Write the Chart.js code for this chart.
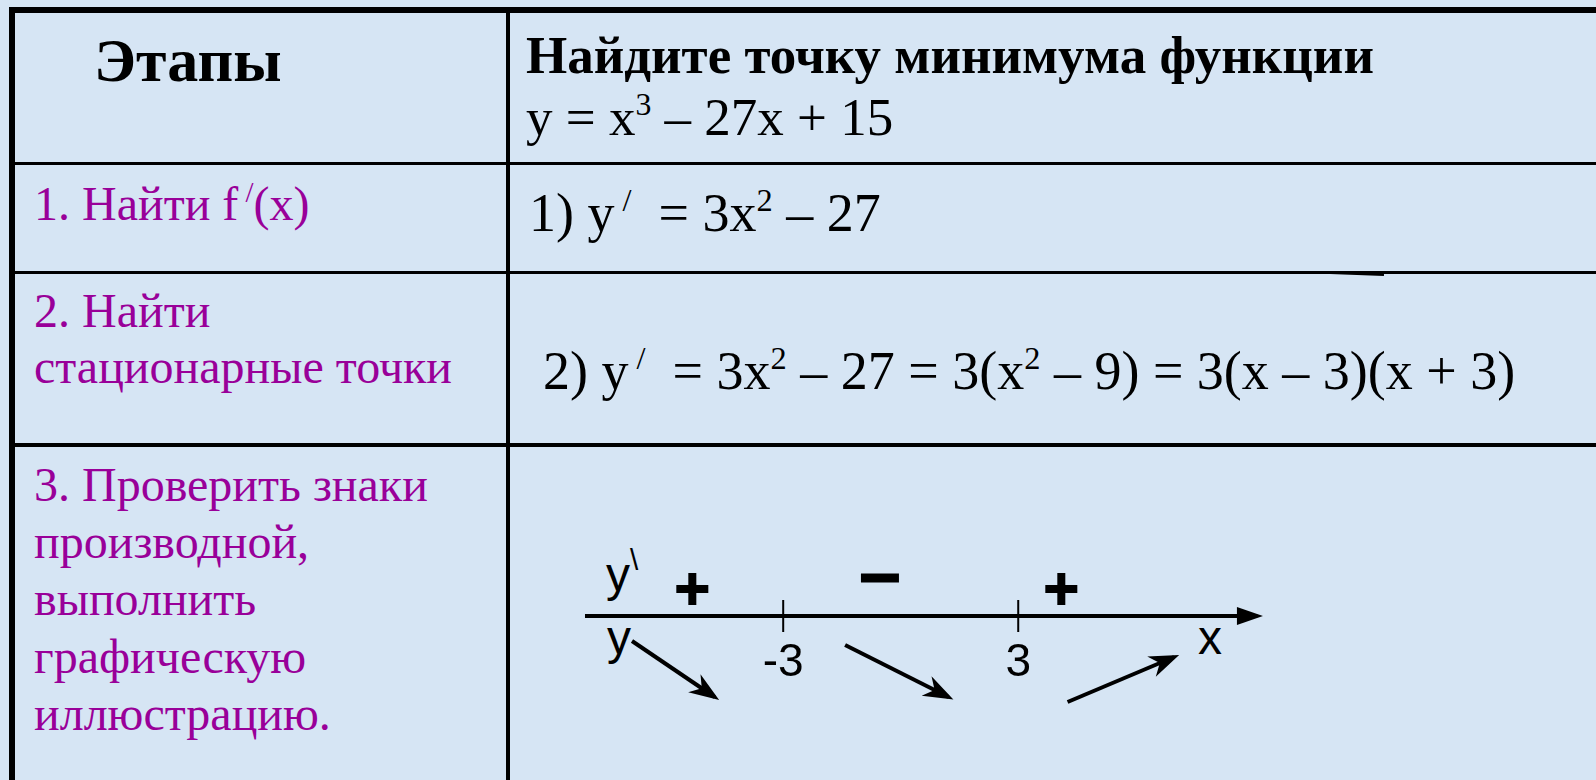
<!DOCTYPE html>
<html><head><meta charset="utf-8">
<script src="https://cdn.jsdelivr.net/npm/chart.js@4.4.1/dist/chart.umd.min.js"></script>
<style>
html,body{margin:0;padding:0;width:1596px;height:780px;overflow:hidden;background:#d6e5f4;}
.ln{position:absolute;background:#000;}
.t{position:absolute;white-space:nowrap;}
.serif{font-family:'Liberation Serif','Times New Roman',serif;}
.sans{font-family:'Liberation Sans',Arial,sans-serif;}
.b{font-weight:bold;}
.m{color:#990099;}
.sup{position:relative;font-size:0.6em;top:-0.62em;}
#c{position:absolute;left:509px;top:446px;}
</style></head><body>
<div class="ln" style="left:9px;top:7px;width:1587px;height:6px"></div>
<div class="ln" style="left:9px;top:7px;width:6px;height:773px"></div>
<div class="ln" style="left:506px;top:10px;width:4px;height:770px"></div>
<div class="ln" style="left:12px;top:162px;width:1584px;height:3px"></div>
<div class="ln" style="left:12px;top:271px;width:1584px;height:3px"></div>
<div class="ln" style="left:12px;top:443px;width:1584px;height:4px"></div>
<div class="ln" style="left:1330px;top:272px;width:54px;height:3px;transform:rotate(2deg)"></div>
<div id="texts"></div>
<canvas id="c" width="1087" height="334"></canvas>
<script>
// ---- data ----
const signTicks = [-3, 3];
const signTickLabels = ['-3', '3'];
const axisLine = [{x: -8.06, y: 0}, {x: 9.10, y: 0}];
const plusSigns = [{x: -5.32, y: 2.7}, {x: 4.1, y: 2.7}];
const minusSigns = [{x: -0.53, y: 3.8}];
const trendDown1 = [{x: -6.86, y: -2.5}, {x: -4.75, y: -8.1}];
const trendDown2 = [{x: -1.42, y: -2.9}, {x: 1.22, y: -8.1}];
const trendUp = [{x: 4.26, y: -8.6}, {x: 6.98, y: -4.1}];

// ---- text content & layout ----
const textItems = [
  {x: 94, base: 81, size: 62, cls: 'serif b', html: 'Этапы'},
  {x: 526, base: 73, size: 53, cls: 'serif b', html: 'Найдите точку минимума функции'},
  {x: 526, base: 135, size: 53, cls: 'serif', html: 'y = x<span class="sup">3</span> – 27x + 15'},
  {x: 34, base: 220, size: 48, cls: 'serif m', html: '1. Найти f<span class="sup"> /</span>(x)'},
  {x: 529, base: 231, size: 54, cls: 'serif', html: '1) y<span class="sup"> /</span>&nbsp; = 3x<span class="sup">2</span> – 27'},
  {x: 34, base: 327, size: 48, cls: 'serif m', html: '2. Найти'},
  {x: 34, base: 383, size: 48, cls: 'serif m', html: 'стационарные точки'},
  {x: 543, base: 389, size: 54, cls: 'serif', html: '2) y<span class="sup"> /</span>&nbsp; = 3x<span class="sup">2</span> – 27 = 3(x<span class="sup">2</span> – 9) = 3(x – 3)(x + 3)'},
  {x: 34, base: 501, size: 48, cls: 'serif m', html: '3. Проверить знаки'},
  {x: 34, base: 558, size: 48, cls: 'serif m', html: 'производной,'},
  {x: 34, base: 615, size: 48, cls: 'serif m', html: 'выполнить'},
  {x: 34, base: 673, size: 48, cls: 'serif m', html: 'графическую'},
  {x: 34, base: 730, size: 48, cls: 'serif m', html: 'иллюстрацию.'},
  {x: 606, base: 592, size: 48, cls: 'sans', html: 'y<span class="sup" style="font-size:0.62em;top:-0.72em;font-weight:300">\\</span>'},
  {x: 607, base: 655, size: 48, cls: 'sans', html: 'y'},
  {x: 1198, base: 655, size: 48, cls: 'sans', html: 'x'}
];
const host = document.getElementById('texts');
textItems.forEach(it => {
  const d = document.createElement('div');
  d.className = 't ' + it.cls;
  const k = it.cls.indexOf('sans') >= 0 ? 0.8465 : 0.8375;
  d.style.left = it.x + 'px';
  d.style.top = (it.base - k * it.size) + 'px';
  d.style.fontSize = it.size + 'px';
  d.style.lineHeight = it.size + 'px';
  d.innerHTML = it.html;
  host.appendChild(d);
});

// ---- arrowheads ----
const arrowPlugin = {
  id: 'arrowheads',
  afterDatasetsDraw(chart) {
    const ctx = chart.ctx;
    chart.data.datasets.forEach((ds, i) => {
      if (!ds.arrowHead) return;
      const pts = chart.getDatasetMeta(i).data;
      const a = pts[pts.length - 2], b = pts[pts.length - 1];
      const ang = Math.atan2(b.y - a.y, b.x - a.x);
      const {length: L, width: W, notch: N} = ds.arrowHead;
      const ext = ds.borderWidth * L / W;
      ctx.save();
      ctx.translate(b.x, b.y);
      ctx.rotate(ang);
      ctx.translate(ext, 0);
      ctx.beginPath();
      ctx.moveTo(0, 0);
      ctx.lineTo(-L, -W / 2);
      ctx.lineTo(-L + N, 0);
      ctx.lineTo(-L, W / 2);
      ctx.closePath();
      ctx.fillStyle = ds.borderColor;
      ctx.fill();
      ctx.restore();
    });
  }
};

const lineDs = (label, data, w, head) => ({
  label, data, showLine: true, borderColor: '#000', borderWidth: w,
  pointRadius: 0, borderCapStyle: 'butt', arrowHead: head
});

new Chart(document.getElementById('c'), {
  type: 'scatter',
  data: {
    datasets: [
      lineDs('axis', axisLine, 4, {length: 26, width: 18, notch: 0}),
      lineDs('down1', trendDown1, 4, {length: 30, width: 22, notch: 9}),
      lineDs('down2', trendDown2, 4, {length: 30, width: 22, notch: 9}),
      lineDs('up', trendUp, 4, {length: 30, width: 22, notch: 9}),
      {label: 'ticks', data: signTicks.map(v => ({x: v, y: 0})), pointStyle: 'line', pointRotation: 90,
       pointRadius: 16, pointBorderWidth: 2, pointBorderColor: '#000', pointBackgroundColor: '#000'},
      {label: 'plus', data: plusSigns, pointStyle: 'cross', pointRadius: 16, pointBorderWidth: 8,
       pointBorderColor: '#000', pointBackgroundColor: '#000'},
      {label: 'minus', data: minusSigns, pointStyle: 'line', pointRadius: 19, pointBorderWidth: 9,
       pointBorderColor: '#000', pointBackgroundColor: '#000'}
    ]
  },
  options: {
    responsive: false, animation: false, devicePixelRatio: 1, events: [],
    layout: {padding: 0, autoPadding: false},
    plugins: {legend: {display: false}, tooltip: {enabled: false}},
    scales: {
      x: {
        type: 'linear', min: -10, max: 17.75, position: {y: 0},
        grid: {display: false}, border: {display: false},
        afterBuildTicks: s => { s.ticks = signTicks.map(v => ({value: v})); },
        ticks: {
          color: '#000', padding: 12, maxRotation: 0, autoSkip: false,
          font: {family: "'Liberation Sans', Arial, sans-serif", size: 46},
          callback: v => { const i = signTicks.indexOf(v); return i >= 0 ? signTickLabels[i] : ''; }
        }
      },
      y: {type: 'linear', min: -16.4, max: 17, display: false}
    }
  },
  plugins: [arrowPlugin]
});
</script>
</body></html>
